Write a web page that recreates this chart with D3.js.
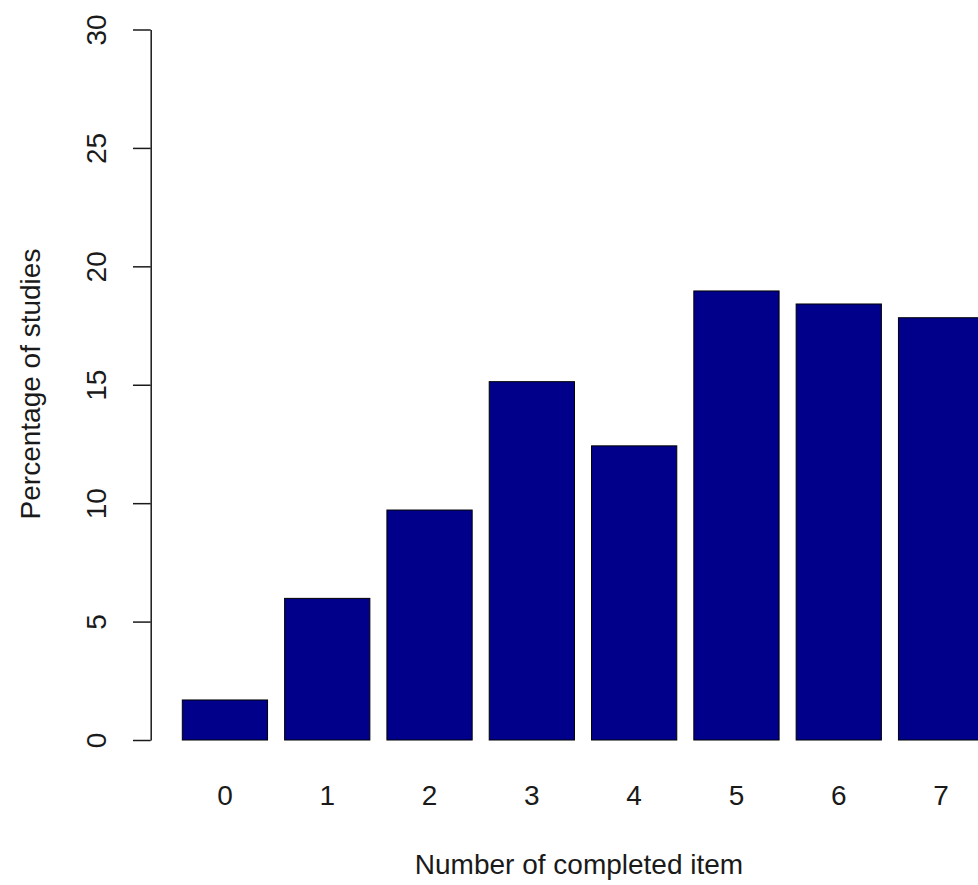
<!DOCTYPE html>
<html>
<head>
<meta charset="utf-8">
<script src="https://cdn.jsdelivr.net/npm/d3@7"></script>
<style>
  html, body { margin: 0; padding: 0; background: #fff; }
  svg { display: block; }
  text { font-family: Arial, "Liberation Sans", sans-serif; fill: #1a1a1a; }
</style>
</head>
<body>
<svg id="chart" width="978" height="885"></svg>
<script>
const categories = ["0", "1", "2", "3", "4", "5", "6", "7"];
const values = [1.69, 5.98, 9.71, 15.13, 12.42, 18.96, 18.41, 17.83];
const yTicks = [0, 5, 10, 15, 20, 25, 30];
const xTitle = "Number of completed item";
const yTitle = "Percentage of studies";

const svg = d3.select("#chart");
const fontSize = 28;

const x = d3.scaleBand()
  .domain(categories)
  .range([182.3, 983.7])
  .paddingInner(1 / 6)
  .paddingOuter(0);

const y = d3.scaleLinear()
  .domain([0, 30])
  .range([740, 29.5]);

// bars
svg.append("g")
  .selectAll("rect")
  .data(values)
  .join("rect")
  .attr("x", (d, i) => x(categories[i]))
  .attr("y", d => y(d))
  .attr("width", x.bandwidth())
  .attr("height", d => y(0) - y(d))
  .attr("fill", "#00008B")
  .attr("stroke", "#000")
  .attr("stroke-width", 1);

// y axis
const yAxis = svg.append("g")
  .attr("transform", "translate(150.7,0)")
  .call(d3.axisLeft(y).tickValues(yTicks).tickSize(17.7).tickSizeOuter(0).tickFormat(d3.format("d")));
yAxis.select(".domain").attr("stroke", "#1a1a1a").attr("stroke-width", 1.5);
yAxis.selectAll(".tick line").attr("stroke", "#1a1a1a").attr("stroke-width", 1.5);
yAxis.selectAll(".tick text")
  .attr("transform", "rotate(-90)")
  .attr("x", 0)
  .attr("y", -45)
  .attr("dy", 0)
  .attr("text-anchor", "middle")
  .style("font-size", fontSize + "px")
  .style("fill", "#1a1a1a")
  .style("font-family", "Arial, 'Liberation Sans', sans-serif");

// x axis (labels only)
const xAxis = svg.append("g")
  .attr("transform", "translate(0,740)")
  .call(d3.axisBottom(x).tickSize(0).tickPadding(0));
xAxis.select(".domain").remove();
xAxis.selectAll(".tick text")
  .attr("y", 65)
  .attr("dy", 0)
  .style("font-size", fontSize + "px")
  .style("fill", "#1a1a1a")
  .style("font-family", "Arial, 'Liberation Sans', sans-serif");

// titles
svg.append("text")
  .attr("x", 579)
  .attr("y", 874)
  .attr("text-anchor", "middle")
  .style("font-size", fontSize + "px")
  .text(xTitle);

svg.append("text")
  .attr("transform", "translate(40,384) rotate(-90)")
  .attr("text-anchor", "middle")
  .style("font-size", fontSize + "px")
  .text(yTitle);
</script>
</body>
</html>
